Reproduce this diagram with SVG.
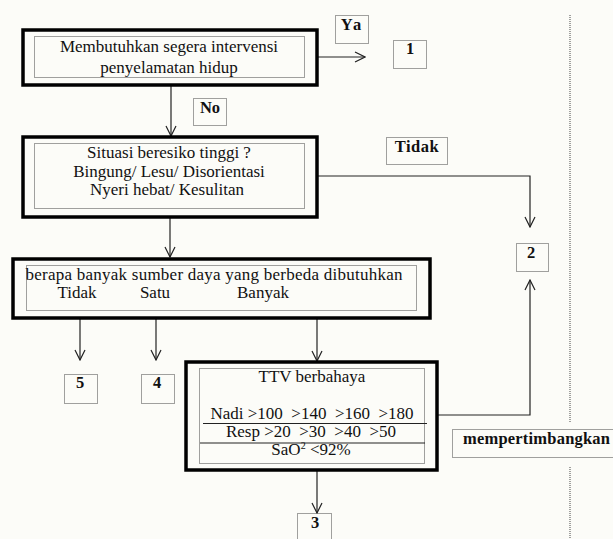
<svg xmlns="http://www.w3.org/2000/svg" width="613" height="539" viewBox="0 0 613 539">
<defs>
<style>
.bg{fill:#fcfcf8}
.thick{fill:none;stroke:#000;stroke-width:3.5}
.dot{fill:none;stroke:#444;stroke-width:1;stroke-dasharray:1,1}
.t{font-family:"Liberation Serif","Times New Roman",serif;font-size:17px;fill:#111;text-anchor:middle}
.b{font-family:"Liberation Serif","Times New Roman",serif;font-size:16.5px;font-weight:bold;fill:#111;text-anchor:middle}
.ln{fill:none;stroke:#222;stroke-width:1.2}
.sep{stroke:#222;stroke-width:1.2}
</style>
<marker id="arr" viewBox="0 0 12 12" refX="11" refY="6" markerWidth="12" markerHeight="12" markerUnits="userSpaceOnUse" orient="auto">
<path d="M1,1 L11,6 L1,11" fill="none" stroke="#222" stroke-width="1.2"/>
</marker>
</defs>
<rect class="bg" x="0" y="0" width="613" height="539"/>
<line x1="570" y1="15" x2="570" y2="423" class="dot"/>
<line x1="570" y1="467" x2="570" y2="539" class="dot"/>

<g id="connectors">
<line class="ln" x1="317" y1="57" x2="365" y2="57" marker-end="url(#arr)"/>
<line class="ln" x1="171" y1="86" x2="171" y2="136" marker-end="url(#arr)"/>
<polyline class="ln" points="317,176 530,176 530,227" marker-end="url(#arr)"/>
<line class="ln" x1="170" y1="218" x2="170" y2="257" marker-end="url(#arr)"/>
<line class="ln" x1="80" y1="319" x2="80" y2="360" marker-end="url(#arr)"/>
<line class="ln" x1="156" y1="319" x2="156" y2="360" marker-end="url(#arr)"/>
<line class="ln" x1="317" y1="319" x2="317" y2="361" marker-end="url(#arr)"/>
<polyline class="ln" points="438,415 530,415 530,280" marker-end="url(#arr)"/>
<line class="ln" x1="317" y1="471" x2="317" y2="513" marker-end="url(#arr)"/>
</g>

<g id="n-intervensi">
<rect class="thick" x="23" y="30" width="294" height="55"/>
<rect class="dot" x="34.5" y="36.5" width="270" height="41"/>
<text class="t" x="169" y="52">Membutuhkan segera intervensi</text>
<text class="t" x="169" y="73">penyelamatan hidup</text>
</g>

<g id="n-ya"><rect class="dot" x="335.5" y="15.5" width="33" height="28"/><text class="b" x="352" y="30" letter-spacing="2">Ya</text></g>
<g id="n-1"><rect class="dot" x="393.5" y="40.5" width="33" height="28"/><text class="b" x="410" y="54">1</text></g>
<g id="n-no"><rect class="dot" x="193.5" y="98.5" width="33" height="27"/><text class="b" x="210" y="113">No</text></g>
<g id="n-tidak"><rect class="dot" x="386.5" y="137.5" width="61" height="27"/><text class="b" x="417" y="152" letter-spacing="0.5">Tidak</text></g>

<g id="n-situasi">
<rect class="thick" x="23" y="137" width="294" height="80"/>
<rect class="dot" x="34.5" y="143.5" width="270" height="65"/>
<text class="t" x="169" y="158">Situasi beresiko tinggi ?</text>
<text class="t" x="169" y="177">Bingung/ Lesu/ Disorientasi</text>
<text class="t" x="167" y="195">Nyeri hebat/ Kesulitan</text>
</g>

<g id="n-2"><rect class="dot" x="516.5" y="243.5" width="32" height="28"/><text class="b" x="531" y="258">2</text></g>

<g id="n-sumber">
<rect class="thick" x="13" y="259" width="417" height="59"/>
<rect class="dot" x="26.5" y="265.5" width="390" height="45"/>
<text class="t" x="214" y="280" textLength="377" lengthAdjust="spacing">berapa banyak sumber daya yang berbeda dibutuhkan</text>
<text class="t" x="77" y="298">Tidak</text>
<text class="t" x="155" y="298">Satu</text>
<text class="t" x="263" y="298">Banyak</text>
</g>

<g id="n-5"><rect class="dot" x="64.5" y="374.5" width="33" height="29"/><text class="b" x="80" y="388">5</text></g>
<g id="n-4"><rect class="dot" x="141.5" y="374.5" width="33" height="29"/><text class="b" x="157" y="388">4</text></g>

<g id="n-ttv">
<rect class="thick" x="186" y="362" width="251" height="108"/>
<rect class="dot" x="199.5" y="368.5" width="225" height="95"/>
<text class="t" x="312" y="382">TTV berbahaya</text>
<text class="t" x="312" y="419" xml:space="preserve">Nadi &gt;100  &gt;140  &gt;160  &gt;180</text>
<line class="sep" x1="203" y1="423.5" x2="427" y2="423.5"/>
<text class="t" x="311" y="437" xml:space="preserve">Resp &gt;20  &gt;30  &gt;40  &gt;50</text>
<line class="sep" x1="200" y1="443" x2="425" y2="443"/>
<text class="t" x="311" y="455">SaO<tspan font-size="10" dy="-6">2</tspan><tspan dy="6"> &lt;92%</tspan></text>
</g>

<g id="n-3"><rect class="dot" x="297.5" y="513.5" width="34" height="30"/><text class="b" x="315" y="528">3</text></g>

<g id="n-mempertimbangkan"><rect class="dot" x="452.5" y="429.5" width="170" height="28"/><text class="b" x="463" y="444" font-size="15" style="text-anchor:start" textLength="147" lengthAdjust="spacing">mempertimbangkan</text></g>
</svg>
